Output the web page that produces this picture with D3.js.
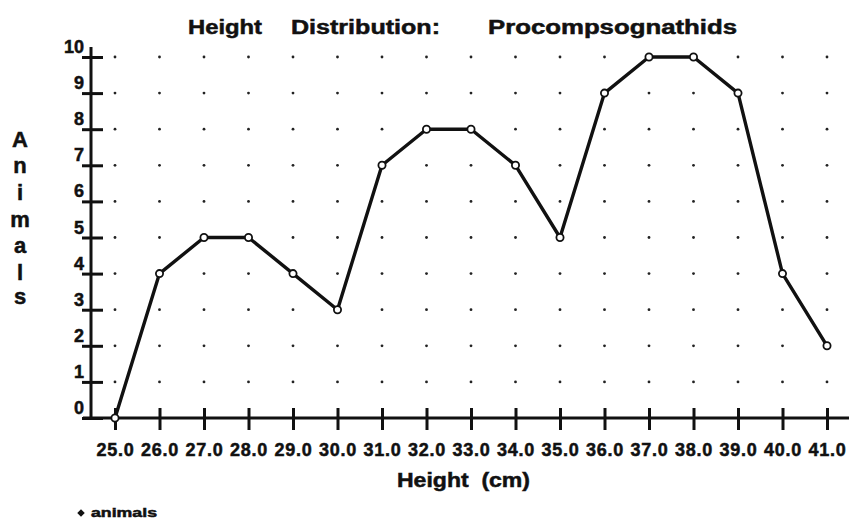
<!DOCTYPE html>
<html><head><meta charset="utf-8">
<script src="https://cdn.jsdelivr.net/npm/d3@7"></script>
<style>
html,body{margin:0;padding:0;background:#fff;}
text{font-family:"Liberation Sans",Arial,Helvetica,sans-serif;font-weight:bold;fill:#111;stroke:#111;stroke-width:0.5px;}
</style></head>
<body>
<svg id="chart" width="849" height="519"></svg>
<script>
const heights = [25,26,27,28,29,30,31,32,33,34,35,36,37,38,39,40,41];
const animals = [0,4,5,5,4,3,7,8,8,7,5,9,10,10,9,4,2];
const yTicks = [0,1,2,3,4,5,6,7,8,9,10];
const titleParts = ["Height", "Distribution:", "Procompsognathids"];
const yTitle = "Animals";
const xTitle = "Height  (cm)";
const legendLabel = "animals";

const svg = d3.select("#chart");
const x = d3.scaleLinear().domain([25,41]).range([115,827]);
const y = d3.scaleLinear().domain([0,10]).range([418,57]);
const ink = "#111";

// title
const tpos = [[188,74],[291,149],[488,249]];
titleParts.forEach((t,i)=>{
  svg.append("text").attr("x",tpos[i][0]).attr("y",34).attr("font-size",20)
    .attr("textLength",tpos[i][1]).attr("lengthAdjust","spacingAndGlyphs").text(t);
});

// dot grid
const grid = svg.append("g");
heights.forEach(h=>{
  yTicks.filter(v=>v>0).forEach(v=>{
    grid.append("circle").attr("cx",x(h)).attr("cy",y(v)).attr("r",1.4).attr("fill","#222");
  });
});

// y axis
const yAxis = d3.axisLeft(y).tickValues(yTicks).tickSize(0).tickFormat(d3.format("d"));
const gy = svg.append("g").attr("transform","translate(91,0)").call(yAxis);
gy.select(".domain").remove();
gy.selectAll("text").attr("font-size",18).attr("font-family",null).attr("x",-7).attr("dy","-0.25em").attr("fill",ink);
svg.append("line").attr("x1",91).attr("x2",91).attr("y1",47).attr("y2",419).attr("stroke",ink).attr("stroke-width",3);
gy.selectAll(".tick").append("line").attr("x1",-9).attr("x2",12).attr("stroke",ink).attr("stroke-width",3);

// x axis
const xAxis = d3.axisBottom(x).tickValues(heights).tickSize(0).tickFormat(d3.format(".1f"));
const gx = svg.append("g").attr("transform","translate(0,418)").call(xAxis);
gx.select(".domain").remove();
gx.selectAll("text").attr("font-size",18).attr("font-family",null).attr("letter-spacing","0.8px").attr("y",38).attr("dy",0).attr("fill",ink);
svg.append("line").attr("x1",83).attr("x2",849).attr("y1",418).attr("y2",418).attr("stroke",ink).attr("stroke-width",3);
gx.selectAll(".tick").append("line").attr("y1",-10).attr("y2",12).attr("stroke",ink).attr("stroke-width",3);

// axis titles
svg.append("text").attr("x",397).attr("y",487).attr("font-size",20)
  .attr("textLength",133).attr("lengthAdjust","spacingAndGlyphs").attr("xml:space","preserve").text(xTitle);
const ys = [147,173,200,227,253,280,304];
yTitle.split("").forEach((c,i)=>{
  svg.append("text").attr("x",20).attr("y",ys[i]).attr("text-anchor","middle").attr("font-size",22).text(c);
});

// line
const line = d3.line().x((d,i)=>x(heights[i])).y(d=>y(d));
svg.append("path").datum(animals).attr("d",line).attr("fill","none").attr("stroke",ink)
  .attr("stroke-width",3.4).attr("stroke-linejoin","round");
svg.append("g").selectAll("circle").data(animals).join("circle")
  .attr("cx",(d,i)=>x(heights[i])).attr("cy",d=>y(d)).attr("r",3.6)
  .attr("fill","#fff").attr("stroke",ink).attr("stroke-width",1.8);

// legend
const sym = d3.symbol().type(d3.symbolSquare).size(28);
svg.append("path").attr("d",sym()).attr("transform","translate(81,513) rotate(45)").attr("fill",ink);
svg.append("text").attr("x",91).attr("y",517).attr("font-size",13).attr("textLength",66).attr("lengthAdjust","spacingAndGlyphs").text(legendLabel);
</script>
</body></html>
